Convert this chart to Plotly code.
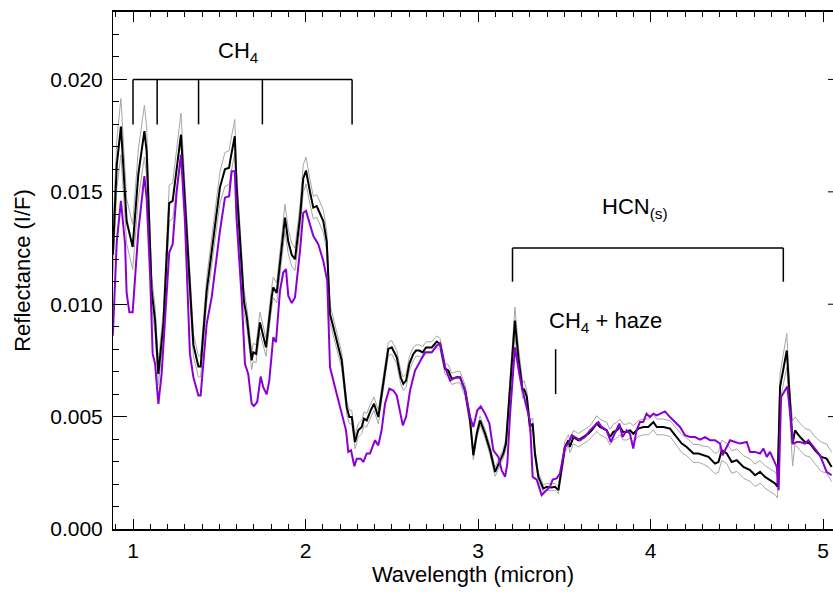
import numpy as np
import plotly.graph_objects as go

# ---------------- data ----------------
# observed mean spectrum (black) and its 1-sigma half width (grey envelope)
wl_obs = [0.883,0.906,0.930,0.954,0.963,0.998,1.031,1.066,1.079,1.108,
          1.128,1.147,1.176,1.210,1.230,1.278,1.330,1.350,1.379,1.392,
          1.427,1.504,1.533,1.557,1.566,1.590,1.600,1.620,1.643,1.660,
          1.688,1.697,1.713,1.736,1.755,1.771,1.804,1.813,1.833,1.862,
          1.881,1.900,1.920,1.939,1.968,1.987,2.003,2.026,2.045,2.065,
          2.103,2.123,2.142,2.152,2.181,2.210,2.239,2.254,2.268,2.287,
          2.306,2.326,2.339,2.355,2.378,2.397,2.422,2.451,2.480,2.500,
          2.529,2.552,2.567,2.583,2.602,2.625,2.641,2.660,2.679,2.699,
          2.732,2.761,2.780,2.809,2.828,2.848,2.877,2.896,2.925,2.954,
          2.973,2.993,3.012,3.041,3.070,3.099,3.118,3.147,3.162,3.186,
          3.214,3.234,3.259,3.267,3.283,3.301,3.317,3.330,3.350,3.379,
          3.398,3.427,3.446,3.466,3.485,3.504,3.524,3.533,3.553,3.582,
          3.610,3.640,3.659,3.688,3.707,3.727,3.746,3.765,3.784,3.804,
          3.823,3.842,3.862,3.881,3.900,3.929,3.958,3.987,4.017,4.036,
          4.075,4.113,4.152,4.181,4.210,4.249,4.278,4.307,4.336,4.374,
          4.394,4.413,4.442,4.471,4.500,4.539,4.577,4.606,4.635,4.664,
          4.693,4.722,4.736,4.751,4.790,4.809,4.824,4.838,4.867,4.896,
          4.925,4.954,4.990,5.021,5.050]
refl_obs = [0.01220,0.01620,0.01790,0.01500,0.01370,0.01255,0.01580,0.01770,0.01680,0.01060,
            0.00927,0.00690,0.00910,0.01450,0.01460,0.01755,0.01060,0.00820,0.00723,0.00723,
            0.01060,0.01520,0.01600,0.01607,0.01650,0.01747,0.01530,0.01280,0.01015,0.00940,
            0.00750,0.00786,0.00779,0.00919,0.00853,0.00808,0.01030,0.01075,0.01050,0.01267,
            0.01385,0.01280,0.01220,0.01200,0.01385,0.01560,0.01595,0.01500,0.01430,0.01437,
            0.01370,0.01280,0.00957,0.00927,0.00838,0.00750,0.00542,0.00498,0.00498,0.00387,
            0.00439,0.00454,0.00491,0.00483,0.00528,0.00557,0.00498,0.00646,0.00801,0.00808,
            0.00764,0.00675,0.00646,0.00660,0.00735,0.00779,0.00794,0.00794,0.00786,0.00808,
            0.00808,0.00834,0.00823,0.00713,0.00705,0.00668,0.00675,0.00675,0.00616,0.00483,
            0.00328,0.00424,0.00483,0.00424,0.00350,0.00254,0.00284,0.00336,0.00380,0.00616,
            0.00927,0.00764,0.00616,0.00624,0.00587,0.00454,0.00469,0.00336,0.00232,0.00180,
            0.00188,0.00185,0.00188,0.00173,0.00262,0.00365,0.00395,0.00365,0.00409,0.00395,
            0.00409,0.00424,0.00439,0.00469,0.00454,0.00447,0.00439,0.00409,0.00431,0.00439,
            0.00454,0.00431,0.00431,0.00439,0.00424,0.00447,0.00454,0.00454,0.00476,0.00454,
            0.00454,0.00447,0.00409,0.00380,0.00365,0.00336,0.00336,0.00328,0.00321,0.00291,
            0.00298,0.00350,0.00336,0.00298,0.00306,0.00276,0.00262,0.00239,0.00254,0.00232,
            0.00217,0.00203,0.00188,0.00631,0.00794,0.00542,0.00380,0.00439,0.00409,0.00387,
            0.00380,0.00350,0.00321,0.00313,0.00276]
sigma_obs = [0.00100,0.00110,0.00125,0.00110,0.00100,0.00100,0.00110,0.00115,0.00110,0.00070,
             0.00060,0.00050,0.00060,0.00080,0.00080,0.00095,0.00060,0.00050,0.00047,0.00047,
             0.00055,0.00070,0.00075,0.00075,0.00075,0.00075,0.00070,0.00060,0.00050,0.00045,
             0.00040,0.00040,0.00040,0.00045,0.00040,0.00040,0.00045,0.00045,0.00045,0.00055,
             0.00060,0.00055,0.00050,0.00050,0.00055,0.00060,0.00060,0.00055,0.00050,0.00050,
             0.00050,0.00045,0.00040,0.00040,0.00035,0.00035,0.00030,0.00030,0.00030,0.00030,
             0.00030,0.00030,0.00030,0.00030,0.00030,0.00030,0.00030,0.00030,0.00030,0.00030,
             0.00030,0.00030,0.00030,0.00030,0.00030,0.00030,0.00025,0.00025,0.00025,0.00025,
             0.00025,0.00025,0.00025,0.00025,0.00025,0.00025,0.00025,0.00025,0.00025,0.00025,
             0.00020,0.00020,0.00020,0.00020,0.00020,0.00020,0.00020,0.00020,0.00025,0.00040,
             0.00060,0.00050,0.00035,0.00035,0.00030,0.00025,0.00025,0.00020,0.00020,0.00015,
             0.00015,0.00015,0.00015,0.00015,0.00020,0.00025,0.00025,0.00025,0.00030,0.00030,
             0.00030,0.00030,0.00030,0.00035,0.00035,0.00035,0.00035,0.00035,0.00035,0.00035,
             0.00035,0.00035,0.00035,0.00035,0.00035,0.00035,0.00035,0.00035,0.00035,0.00035,
             0.00035,0.00035,0.00040,0.00040,0.00040,0.00040,0.00040,0.00040,0.00045,0.00045,
             0.00045,0.00045,0.00045,0.00050,0.00050,0.00050,0.00050,0.00050,0.00050,0.00050,
             0.00050,0.00050,0.00050,0.00060,0.00075,0.00060,0.00100,0.00060,0.00060,0.00060,
             0.00060,0.00060,0.00065,0.00065,0.00065]

# model spectrum (purple)
wl_mod = [0.883,0.906,0.930,0.954,0.963,0.979,0.998,1.031,1.066,1.079,
          1.099,1.114,1.128,1.147,1.166,1.186,1.210,1.230,1.253,1.278,
          1.301,1.330,1.350,1.379,1.392,1.427,1.456,1.504,1.533,1.557,
          1.572,1.590,1.600,1.630,1.649,1.668,1.688,1.701,1.720,1.740,
          1.755,1.775,1.790,1.813,1.829,1.852,1.871,1.887,1.900,1.920,
          1.939,1.968,1.987,2.003,2.022,2.045,2.074,2.103,2.126,2.142,
          2.171,2.210,2.235,2.248,2.264,2.283,2.297,2.320,2.335,2.355,
          2.374,2.403,2.422,2.441,2.461,2.486,2.509,2.529,2.564,2.583,
          2.606,2.635,2.664,2.693,2.732,2.761,2.780,2.809,2.838,2.867,
          2.896,2.925,2.954,2.973,2.996,3.016,3.041,3.066,3.089,3.118,
          3.137,3.157,3.170,3.186,3.214,3.234,3.243,3.272,3.301,3.317,
          3.340,3.369,3.398,3.417,3.433,3.456,3.475,3.504,3.524,3.543,
          3.562,3.591,3.620,3.649,3.678,3.698,3.717,3.746,3.770,3.794,
          3.819,3.838,3.862,3.881,3.900,3.919,3.939,3.958,3.977,3.997,
          4.017,4.036,4.055,4.084,4.113,4.142,4.171,4.200,4.229,4.258,
          4.287,4.316,4.345,4.374,4.403,4.418,4.442,4.461,4.490,4.519,
          4.558,4.577,4.606,4.635,4.655,4.674,4.693,4.713,4.732,4.743,
          4.757,4.793,4.809,4.828,4.848,4.867,4.896,4.915,4.945,4.983,
          5.021,5.050]
refl_mod = [0.00860,0.01280,0.01460,0.01267,0.01050,0.00964,0.00964,0.01326,0.01570,0.01470,
            0.01130,0.00779,0.00735,0.00557,0.00690,0.00940,0.01230,0.01267,0.01500,0.01666,
            0.01370,0.00779,0.00675,0.00594,0.00594,0.00912,0.01030,0.01326,0.01474,0.01480,
            0.01592,0.01592,0.01385,0.01030,0.00735,0.00690,0.00557,0.00547,0.00565,0.00678,
            0.00631,0.00599,0.00660,0.00853,0.00831,0.01060,0.01141,0.01156,0.01038,0.01005,
            0.01030,0.01237,0.01407,0.01415,0.01363,0.01304,0.01267,0.01193,0.01104,0.00720,
            0.00631,0.00513,0.00439,0.00343,0.00350,0.00279,0.00313,0.00313,0.00298,0.00336,
            0.00336,0.00395,0.00372,0.00439,0.00557,0.00624,0.00616,0.00594,0.00461,0.00498,
            0.00616,0.00705,0.00749,0.00786,0.00786,0.00816,0.00826,0.00720,0.00660,0.00673,
            0.00675,0.00616,0.00498,0.00454,0.00528,0.00545,0.00513,0.00469,0.00350,0.00321,
            0.00262,0.00232,0.00291,0.00513,0.00808,0.00720,0.00675,0.00572,0.00483,0.00232,
            0.00220,0.00151,0.00173,0.00188,0.00220,0.00225,0.00247,0.00365,0.00380,0.00417,
            0.00409,0.00395,0.00409,0.00439,0.00461,0.00476,0.00454,0.00439,0.00387,0.00431,
            0.00469,0.00409,0.00439,0.00424,0.00358,0.00439,0.00476,0.00476,0.00513,0.00498,
            0.00513,0.00505,0.00513,0.00523,0.00498,0.00476,0.00454,0.00417,0.00409,0.00409,
            0.00398,0.00409,0.00395,0.00395,0.00380,0.00328,0.00365,0.00395,0.00387,0.00380,
            0.00387,0.00343,0.00343,0.00336,0.00358,0.00321,0.00343,0.00306,0.00276,0.00173,
            0.00587,0.00634,0.00513,0.00380,0.00387,0.00387,0.00380,0.00395,0.00365,0.00328,
            0.00254,0.00239]

assert len(wl_obs) == len(refl_obs) == len(sigma_obs)
assert len(wl_mod) == len(refl_mod)

# annotation positions (band markers)
ch4_bands = [1.00, 1.14, 1.38, 1.75, 2.27]
hcn_band = [3.20, 4.77]
haze_band = 3.45
y_ticks_major = [0.005, 0.010, 0.015, 0.020]

# ---------------- figure ----------------
FONT = "Liberation Sans, Arial, Helvetica, sans-serif"
BLACK = "#000000"
GREY = "#a6a6a6"
PURPLE = "#8a00d4"

obs = np.array(refl_obs)
sig = np.array(sigma_obs)

fig = go.Figure()
fig.add_trace(go.Scatter(x=wl_obs, y=obs + sig, mode="lines",
                         line=dict(color=GREY, width=1), hoverinfo="skip"))
fig.add_trace(go.Scatter(x=wl_obs, y=obs - sig, mode="lines",
                         line=dict(color=GREY, width=1), hoverinfo="skip"))
fig.add_trace(go.Scatter(x=wl_obs, y=obs, mode="lines",
                         line=dict(color=BLACK, width=2), name="observed"))
fig.add_trace(go.Scatter(x=wl_mod, y=refl_mod, mode="lines",
                         line=dict(color=PURPLE, width=2), name="model"))

shapes = []
line_style = dict(color=BLACK, width=1.5)
# CH4 bracket
shapes.append(dict(type="line", xref="x", yref="y", x0=ch4_bands[0], x1=ch4_bands[-1],
                   y0=0.020, y1=0.020, line=line_style))
for b in ch4_bands:
    shapes.append(dict(type="line", xref="x", yref="y", x0=b, x1=b,
                       y0=0.020, y1=0.018, line=line_style))
# HCN bracket
shapes.append(dict(type="line", xref="x", yref="y", x0=hcn_band[0], x1=hcn_band[1],
                   y0=0.0125, y1=0.0125, line=line_style))
for b in hcn_band:
    shapes.append(dict(type="line", xref="x", yref="y", x0=b, x1=b,
                       y0=0.0125, y1=0.0110, line=line_style))
# CH4 + haze marker
shapes.append(dict(type="line", xref="x", yref="y", x0=haze_band, x1=haze_band,
                   y0=0.0080, y1=0.0060, line=line_style))
# partial right-hand axis ticks (right spine lies just beyond the frame)
for yv in y_ticks_major:
    shapes.append(dict(type="line", xref="paper", yref="y", x0=0.993, x1=1.0,
                       y0=yv, y1=yv, line=dict(color=BLACK, width=1)))

annotations = [
    dict(x=1.61, y=0.0212, xref="x", yref="y", text="CH<sub>4</sub>", showarrow=False,
         font=dict(family=FONT, size=22, color=BLACK)),
    dict(x=3.91, y=0.0143, xref="x", yref="y", text="HCN<sub>(s)</sub>", showarrow=False,
         font=dict(family=FONT, size=22, color=BLACK)),
    dict(x=3.74, y=0.0092, xref="x", yref="y", text="CH<sub>4</sub> + haze", showarrow=False,
         font=dict(family=FONT, size=22, color=BLACK)),
]

fig.update_layout(
    width=833, height=592,
    margin=dict(l=113, r=0, t=12, b=63, pad=0),
    paper_bgcolor="white", plot_bgcolor="white",
    showlegend=False,
    font=dict(family=FONT, size=21, color=BLACK),
    shapes=shapes, annotations=annotations,
    xaxis=dict(
        range=[0.884, 5.058], tickmode="linear", tick0=0, dtick=1,
        ticks="inside", ticklen=10, tickwidth=1, tickcolor=BLACK,
        minor=dict(tickmode="linear", tick0=0, dtick=0.1, ticks="inside",
                   ticklen=5, tickwidth=1, tickcolor=BLACK, showgrid=False),
        showline=True, linecolor=BLACK, linewidth=1.5, mirror="allticks",
        showgrid=False, zeroline=False,
        tickfont=dict(family=FONT, size=21, color=BLACK),
        ticklabelstandoff=2,
        title=dict(text="Wavelength (micron)", standoff=5,
                   font=dict(family=FONT, size=22, color=BLACK)),
        automargin=False,
    ),
    yaxis=dict(
        range=[0, 0.023], tickmode="linear", tick0=0, dtick=0.005, tickformat=".3f",
        ticks="inside", ticklen=14, tickwidth=1, tickcolor=BLACK,
        minor=dict(tickmode="linear", tick0=0, dtick=0.001, ticks="inside",
                   ticklen=6, tickwidth=1, tickcolor=BLACK, showgrid=False),
        showline=True, linecolor=BLACK, linewidth=1, mirror=False,
        showgrid=False, zeroline=False,
        tickfont=dict(family=FONT, size=21, color=BLACK),
        ticklabelstandoff=5,
        title=dict(text="Reflectance (I/F)", standoff=13,
                   font=dict(family=FONT, size=22, color=BLACK)),
        automargin=False,
    ),
)

fig.write_html("out.html")
